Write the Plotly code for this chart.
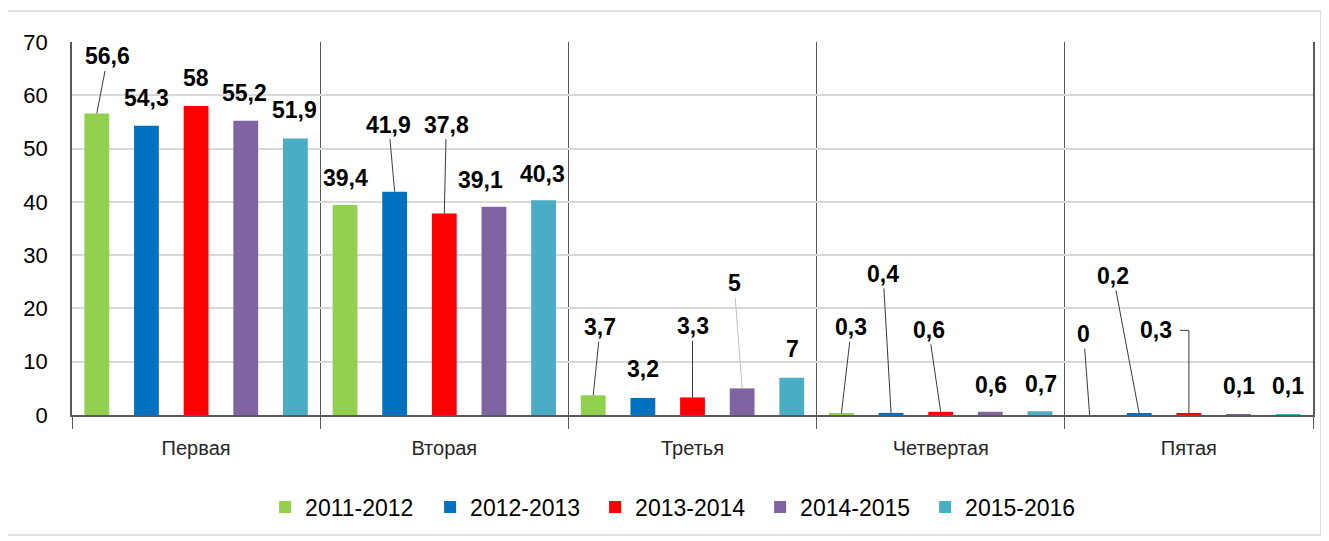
import plotly.graph_objects as go

# ---------------- data ----------------
categories = ["Первая", "Вторая", "Третья", "Четвертая", "Пятая"]
series_names = ["2011-2012", "2012-2013", "2013-2014", "2014-2015", "2015-2016"]
v_2011_2012 = [56.6, 39.4, 3.7, 0.3, 0]
v_2012_2013 = [54.3, 41.9, 3.2, 0.4, 0.2]
v_2013_2014 = [58, 37.8, 3.3, 0.6, 0.3]
v_2014_2015 = [55.2, 39.1, 5, 0.6, 0.1]
v_2015_2016 = [51.9, 40.3, 7, 0.7, 0.1]
y_tick_values = [0, 10, 20, 30, 40, 50, 60, 70]

series_values = [v_2011_2012, v_2012_2013, v_2013_2014, v_2014_2015, v_2015_2016]

# ---------------- styles ----------------
colors = ["#92D050", "#0070C0", "#FF0000", "#8064A2", "#4BACC6"]
FONT = "Liberation Sans, Arial, sans-serif"

# label placement (pixel offset of label centre from bar top, leader style)
label_layout = [
    [(11, -57, "line"), (0, -27, "none"), (7, -68, "line"), (10, -86, "line"), (-6, -81, "line")],
    [(0, -28, "none"), (-6, -67, "line"), (0, -29, "none"), (-8, -139, "line"), (-26, -138, "line")],
    [(0, -28, "none"), (2, -89, "line"), (0, -71, "line"), (-12, -82, "line"), (-33, -83, "elbow")],
    [(-1, -28, "none"), (-13, -27, "none"), (-8, -105, "light"), (1, -27, "none"), (0, -28, "none")],
    [(-1, -28, "none"), (-1, -26, "none"), (1, -29, "none"), (1, -27, "none"), (0, -28, "none")],
]
leader_colors = {"line": "#3a3a3a", "light": "#bfbfbf", "none": "rgba(0,0,0,0)", "elbow": "rgba(0,0,0,0)"}

n_series = len(series_names)
slot = 1.0 / n_series

fig = go.Figure()
for si, (name, vals) in enumerate(zip(series_names, series_values)):
    fig.add_trace(go.Bar(
        x=categories, y=vals, name=name,
        marker=dict(color=colors[si], line=dict(width=0)),
    ))

annotations = []
shapes = []
for si, vals in enumerate(series_values):
    for ci, v in enumerate(vals):
        dx, dy, style = label_layout[si][ci]
        bx = ci + (si - (n_series - 1) / 2) * slot
        annotations.append(dict(
            x=bx, y=v, xref="x", yref="y",
            text=f"{v:g}".replace(".", ","),
            showarrow=True, arrowhead=0, arrowwidth=1, standoff=0,
            arrowcolor=leader_colors[style],
            ax=dx, ay=dy,
            font=dict(family=FONT, size=23, color="#000000", weight="bold"),
        ))
        if style == "elbow":
            shapes.append(dict(
                type="path", xref="x", yref="y",
                xsizemode="pixel", ysizemode="pixel",
                xanchor=bx, yanchor=v,
                path=f"M -9,{-dy} L 0,{-dy} L 0,0",
                line=dict(color="#3a3a3a", width=1),
            ))

# outer chart border
shapes.append(dict(type="rect", xref="paper", yref="paper",
                   x0=-0.0524, x1=1.0064, y0=-0.3217, y1=1.083,
                   line=dict(color="#d9d9d9", width=1.5), layer="below"))

fig.update_layout(
    width=1321, height=533,
    margin=dict(l=64, r=16, t=34, b=126),
    paper_bgcolor="white", plot_bgcolor="white",
    barmode="group", bargap=0, bargroupgap=0.5,
    font=dict(family=FONT, color="#000000"),
    showlegend=True,
    legend=dict(orientation="h", x=0.488, xanchor="center", y=-0.247, yanchor="middle",
                font=dict(family=FONT, size=23, color="#000000"),
                entrywidth=120, entrywidthmode="pixels"),
    annotations=annotations,
    shapes=shapes,
)
fig.update_xaxes(
    type="category", tickson="boundaries",
    showgrid=True, gridcolor="#595959", gridwidth=1,
    ticks="outside", ticklen=12, tickcolor="#595959", tickwidth=1,
    showline=True, linecolor="#595959", linewidth=1.5,
    ticklabelstandoff=14,
    tickfont=dict(family=FONT, size=20, color="#262626"),
)
fig.update_yaxes(
    range=[0, 70], tickvals=y_tick_values,
    showgrid=True, gridcolor="#d9d9d9", gridwidth=2,
    showline=True, linecolor="#595959", linewidth=1.5, mirror=True,
    ticks="", ticklabelstandoff=18,
    tickfont=dict(family=FONT, size=22, color="#000000"),
    zeroline=False,
)

fig.write_html("out.html")
